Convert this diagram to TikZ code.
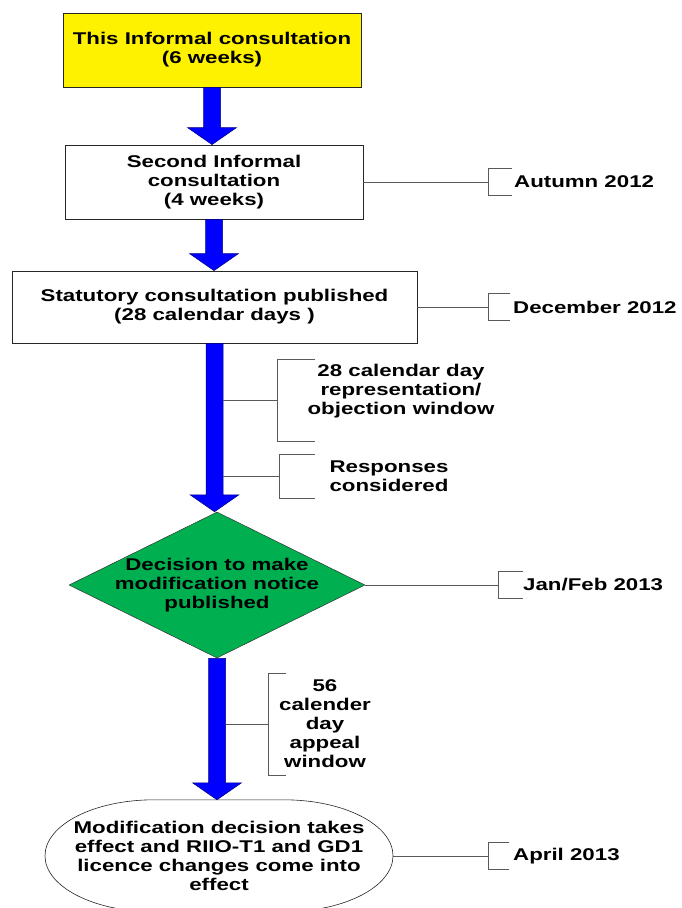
\documentclass[tikz,border=0pt]{standalone}
\usepackage{fontspec}
\setmainfont[FakeStretch=1.31]{Liberation Sans}
\usetikzlibrary{shapes.geometric,calc}
\definecolor{decgreen}{RGB}{0,176,80}

\begin{document}
\begin{tikzpicture}[x=1pt,y=-1pt,
    txt/.style={font=\fontsize{17}{19}\selectfont\bfseries,align=center,inner sep=0pt},
    stage/.style={txt,draw=black!85,line width=0.8pt,minimum width=298pt,minimum height=74pt},
    link/.style={draw=black!65,line width=0.8pt},
    bigarrow/.style={fill=blue,draw=blue!50!black,line width=0.5pt}]
  \useasboundingbox (0,0) rectangle (682,908);
  \node[stage,fill=yellow] (cons1) at (212,50) {This Informal consultation\\(6 weeks)};
  \node[stage] (cons2) at (214,182) {Second Informal\\consultation\\(4 weeks)};
  \node[stage,minimum width=405pt,minimum height=72pt] (stat) at (214.5,307) {Statutory consultation published\\(28 calendar days )};
  \node[diamond,draw=black!80,line width=0.5pt,fill=decgreen,minimum width=296pt,minimum height=146pt,inner sep=0pt,
        label={[txt]center:Decision to make\\modification notice\\published}] (dec) at (217,585) {};
  \node[txt,minimum width=348pt,minimum height=112pt] (eff) at (219,856)
    {Modification decision takes\\effect and RIIO-T1 and GD1\\licence changes come into\\effect};
  % flattened oval round the last step
  \draw[draw=black!85,line width=0.6pt] ($(eff.north)+(-65,0)$) arc[start angle=90,end angle=270,x radius=109pt,y radius=56pt]
    -- ++(130,0) arc[start angle=-90,end angle=90,x radius=109pt,y radius=56pt] -- cycle;
  % big arrows
  \foreach \a/\b in {cons1/cons2,cons2/stat,stat/dec,dec/eff}{
    \path (\a.south) coordinate (s) (\a.south |- \b.north) coordinate (t);
    \filldraw[bigarrow] ($(s)+(-8.5,0)$) -- ($(t)+(-8.5,-17)$) -- ($(t)+(-24.5,-17)$) -- (t)
      -- ($(t)+(24.5,-17)$) -- ($(t)+(8.5,-17)$) -- ($(s)+(8.5,0)$) -- cycle;
  }
  % side notes
  \node[txt,anchor=west] (d1) at (514,182) {Autumn 2012};
  \node[txt,anchor=west] (d2) at (513,307) {December 2012};
  \node[txt] (n3) at (401,391) {28 calendar day\\representation/\\objection window};
  \node[txt] (n4) at (389,476) {Responses\\considered};
  \node[txt,anchor=west] (d5) at (523,585) {Jan/Feb 2013};
  \node[txt] (n6) at (325,724) {56\\calender\\day\\appeal\\window};
  \node[txt,anchor=west] (d7) at (513,856) {April 2013};
  \coordinate (k1) at (488,182);
  \coordinate (k2) at (488,307);
  \coordinate (w3) at (223,400);
  \coordinate (k3) at (277,400);
  \coordinate (w4) at (223,476);
  \coordinate (k4) at (279,476);
  \coordinate (k5) at (498,585);
  \coordinate (w6) at (225.5,724);
  \coordinate (k6) at (268,724);
  \coordinate (k7) at (488,856);
  \draw[link] (cons2.east) -- (k1) (stat.east) -- (k2) (w3) -- (k3) (w4) -- (k4)
    (dec.east) -- (k5) (w6) -- (k6) (eff.east) -- (k7);
  \foreach \k/\h/\s in {k1/13.5/24,k2/13.5/22,k3/41/38,k4/22/36,k5/13.5/25,k6/51/18,k7/13.5/21}
    \draw[link] ($(\k)+(\s,-\h)$) -| ($(\k)+(0,\h)$) -- ++(\s,0);
\end{tikzpicture}
\end{document}
